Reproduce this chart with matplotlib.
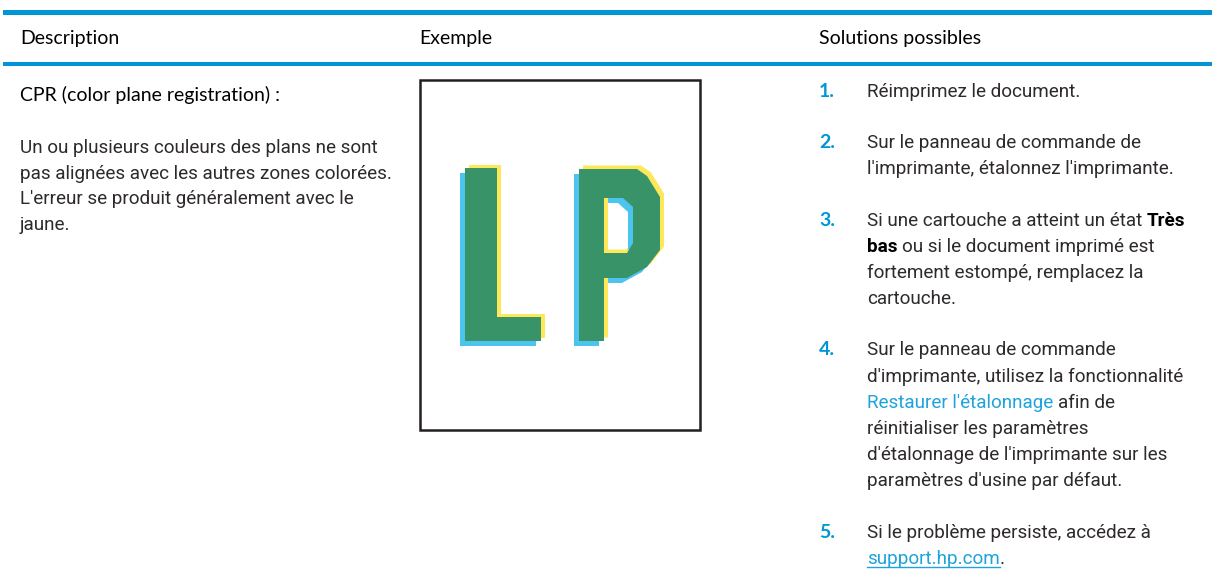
import matplotlib.pyplot as plt
from matplotlib.patches import Rectangle, PathPatch
from matplotlib.path import Path

plt.rcParams['font.family'] = ['Lato', 'DejaVu Sans']

# Contenu du tableau
entetes = ['Description', 'Exemple', 'Solutions possibles']
titre = 'CPR (color plane registration) :'
description = [
    'Un ou plusieurs couleurs des plans ne sont',
    'pas alignées avec les autres zones colorées.',
    "L'erreur se produit généralement avec le",
    'jaune.',
]
numeros = ['1.', '2.', '3.', '4.', '5.']
# chaque ligne = liste de (texte, style) ; n=normal, b=gras, l=lien, u=lien souligné
solutions = [
    [[('Réimprimez le document.', 'n')]],
    [[('Sur le panneau de commande de', 'n')],
     [("l'imprimante, étalonnez l'imprimante.", 'n')]],
    [[('Si une cartouche a atteint un état ', 'n'), ('Très', 'b')],
     [('bas', 'b'), (' ou si le document imprimé est', 'n')],
     [('fortement estompé, remplacez la', 'n')],
     [('cartouche.', 'n')]],
    [[('Sur le panneau de commande', 'n')],
     [("d'imprimante, utilisez la fonctionnalité", 'n')],
     [("Restaurer l'étalonnage", 'l'), (' afin de', 'n')],
     [('réinitialiser les paramètres', 'n')],
     [("d'étalonnage de l'imprimante sur les", 'n')],
     [("paramètres d'usine par défaut.", 'n')]],
    [[('Si le problème persiste, accédez à', 'n')],
     [('support.hp.com', 'u'), ('.', 'n')]],
]

# Contours des lettres de l'exemple (pixels)
lettre_L = [(465, 168), (497, 168), (497, 317), (541, 317), (541, 341), (465, 341)]
lettre_P = [(579, 169), (637, 169), (647, 176), (660, 197), (660, 250), (647, 267),
            (627, 278), (604, 278), (604, 341), (579, 341)]
trou_P = [(604, 198), (623, 198), (633, 207), (633, 243), (627, 253), (604, 253)]

BLEU = '#0096d6'
LIEN = '#1ea3dd'
TEXTE = '#2e2a2b'
FS = 14
CORPS = dict(family=['Roboto', 'DejaVu Sans'], fontweight='normal', fontsize=13.6)

fig = plt.figure(figsize=(12.12, 5.80), dpi=100)
ax = fig.add_axes([0, 0, 1, 1])
ax.set_xlim(0, 1212)
ax.set_ylim(580, 0)
ax.axis('off')
r = fig.canvas.get_renderer()

# bandes bleues
ax.add_patch(Rectangle((3, 9.5), 1209, 5, color=BLEU, lw=0))
ax.add_patch(Rectangle((3, 62), 1209, 3.5, color=BLEU, lw=0))

for x, h in zip([20, 419, 819], entetes):
    ax.text(x, 44, h, fontsize=FS, color='black', va='baseline')

# colonne description
ax.text(20, 101, titre, fontsize=FS, color='black', va='baseline')
for i, ligne in enumerate(description):
    ax.text(20, 153 + i * 25.7, ligne, color=TEXTE, va='baseline', **CORPS)

# exemple
ax.add_patch(Rectangle((420, 80), 280, 350, fill=False, ec='#231f20', lw=1.8))


def forme(points, trou, dx, dy, couleur):
    verts, codes = [], []
    for poly in ([points] + ([trou[::-1]] if trou else [])):
        pts = [(x + dx, y + dy) for x, y in poly]
        verts += pts + [pts[0]]
        codes += [Path.MOVETO] + [Path.LINETO] * (len(pts) - 1) + [Path.CLOSEPOLY]
    ax.add_patch(PathPatch(Path(verts, codes), fc=couleur, lw=0))


for dx, dy, c in [(-5, 5, '#4cc4ee'), (4, -3.5, '#fde85a'), (0, 0, '#389468')]:
    forme(lettre_L, None, dx, dy, c)
    forme(lettre_P, trou_P, dx, dy, c)

# colonne solutions
styles = {
    'n': dict(CORPS, color=TEXTE),
    'b': dict(CORPS, color='black', fontweight='bold'),
    'l': dict(CORPS, color=LIEN),
    'u': dict(CORPS, color=LIEN),
}
t1 = ax.text(0, 0, 'aa', **CORPS)
t2 = ax.text(0, 0, 'a a', **CORPS)
espace = t2.get_window_extent(r).width - t1.get_window_extent(r).width
t1.remove()
t2.remove()

y = 97
interligne = 26.2
for num, item in zip(numeros, solutions):
    ax.text(819, y, num, fontsize=FS, color=BLEU, fontweight='bold', va='baseline')
    for ligne in item:
        x = 867
        for texte, st in ligne:
            if texte.startswith(' '):
                x += espace
            t = ax.text(x, y, texte.strip(), va='baseline', **styles[st])
            w = t.get_window_extent(r).width
            if st == 'u':
                ax.plot([x, x + w], [y + 3, y + 3], color=LIEN, lw=1)
            x += w
            if texte.endswith(' '):
                x += espace
        y += interligne
    y += 25

fig.savefig('out.png', dpi=100)
